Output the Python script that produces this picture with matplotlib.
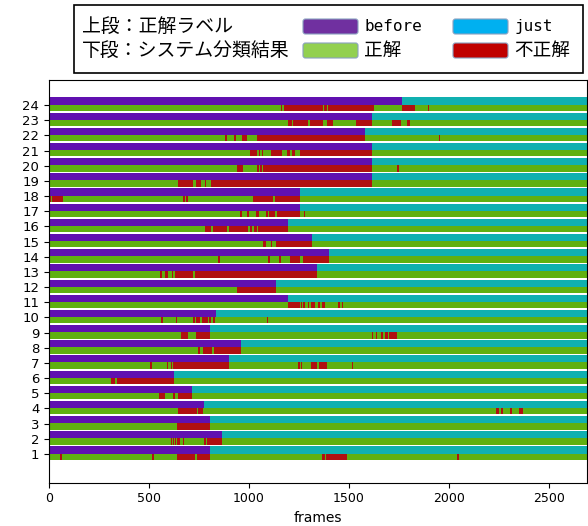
import matplotlib
matplotlib.use("Agg")
import matplotlib.pyplot as plt
import matplotlib.patches as mpatches
import matplotlib.transforms as mtransforms

# ----------
# > Data <
# ----------
n_frames = 2690
rows = list(range(1, 25))

# frame where the ground-truth label switches from "before" to "just"
switch_frames = [805, 865, 805, 773, 713, 627, 898, 958, 805, 833, 1197, 1135,
                 1342, 1402, 1313, 1195, 1255, 1255, 1613, 1613, 1613, 1580, 1613, 1763]

# frame ranges where the system classification was wrong (start, end)
error_segments = [
    [(55, 63), (517, 523), (638, 730), (738, 805), (1363, 1368), (1372, 1378), (1385, 1488), (2038, 2052)],
    [(610, 615), (620, 625), (630, 635), (641, 655), (668, 675), (775, 785), (792, 865)],
    [(638, 805)],
    [(643, 738), (747, 772), (2235, 2252), (2258, 2268), (2305, 2313), (2352, 2372)],
    [(550, 580), (622, 630), (643, 713)],
    [(310, 330), (338, 627)],
    [(505, 513), (588, 595), (610, 617), (622, 898), (1246, 1255), (1260, 1267), (1308, 1338), (1350, 1388), (1513, 1522)],
    [(747, 755), (772, 817), (825, 958)],
    [(660, 697), (735, 805), (1615, 1622), (1633, 1641), (1662, 1672), (1680, 1697), (1700, 1741)],
    [(560, 568), (633, 638), (718, 728), (735, 755), (763, 797), (802, 810), (822, 830), (1088, 1097)],
    [(1197, 1255), (1260, 1267), (1272, 1280), (1293, 1300), (1308, 1330), (1347, 1355), (1363, 1380), (1447, 1455), (1463, 1472)],
    [(941, 1135)],
    [(555, 565), (580, 597), (613, 622), (630, 638), (640, 722), (730, 1342)],
    [(846, 855), (1096, 1105), (1151, 1160), (1205, 1255), (1268, 1402)],
    [(1071, 1085), (1108, 1113), (1133, 1313)],
    [(778, 810), (822, 888), (902, 997), (1003, 1013), (1023, 1038), (1047, 1197)],
    [(955, 963), (988, 998), (1033, 1048), (1083, 1097), (1102, 1130), (1138, 1255), (1276, 1281)],
    [(2, 8), (13, 68), (672, 678), (685, 693), (1022, 1118), (1130, 1255)],
    [(643, 718), (735, 758), (778, 783), (810, 1613)],
    [(941, 971), (1041, 1048), (1055, 1063), (1069, 1613), (1741, 1748)],
    [(1005, 1041), (1048, 1055), (1063, 1071), (1108, 1163), (1188, 1205), (1215, 1230), (1255, 1613)],
    [(880, 888), (925, 933), (963, 988), (1038, 1580), (1950, 1957)],
    [(1195, 1215), (1222, 1296), (1305, 1371), (1388, 1421), (1478, 1482), (1533, 1613), (1713, 1760),
     (1790, 1805), (1823, 1827), (1843, 1847), (1873, 1877)],
    [(1160, 1165), (1175, 1370), (1375, 1390), (1395, 1626), (1763, 1830), (1843, 1847), (1863, 1867),
     (1896, 1900), (1918, 1922)],
]

# -----------
# > Colours <
# -----------
c_before, c_just = "#6010b0", "#10b0b0"
c_ok, c_ng = "#60b010", "#b01010"
leg_before, leg_just = "#7030a0", "#00b0f0"
leg_ok, leg_ng = "#92d050", "#c00000"

# ------------
# > Plotting <
# ------------
W, H = 588, 526
fig = plt.figure(figsize=(W / 100, H / 100), dpi=100)
ax = fig.add_axes([49 / W, 1 - 482.5 / H, 538 / W, 402.5 / H])

for row, t, segs in zip(rows, switch_frames, error_segments):
    # upper: ground truth label
    ax.broken_barh([(0, t)], (row + 0.03, 0.47), facecolors=c_before, linewidth=0)
    ax.broken_barh([(t, n_frames - t)], (row + 0.03, 0.47), facecolors=c_just, linewidth=0)
    # lower: system result
    ax.broken_barh([(0, n_frames)], (row - 0.39, 0.42), facecolors=c_ok, linewidth=0)
    ax.broken_barh([(s, e - s) for s, e in segs], (row - 0.39, 0.42), facecolors=c_ng, linewidth=0)

ax.set_xlim(0, n_frames)
ax.set_ylim(-0.88, 25.65)
ax.set_yticks(rows)
ax.set_yticklabels([str(r) for r in rows])
ax.set_xticks([0, 500, 1000, 1500, 2000, 2500])
ax.tick_params(axis="x", labelsize=9)
ax.tick_params(axis="y", labelsize=9.5)
ax.set_xlabel("frames", fontsize=10)

# ------------------------------
# > Legend box (pixel coords) <
# ------------------------------
px = mtransforms.Affine2D().scale(1, -1).translate(0, H)
fig.add_artist(mpatches.Rectangle((74, 5), 509, 68, transform=px, fill=False,
                                  edgecolor="black", linewidth=1.2))

cjk = ["Noto Sans CJK JP", "DejaVu Sans"]
fig.text(82, 26.5, "上段：正解ラベル", transform=px, fontsize=13.6, family=cjk, va="center")
fig.text(82, 50.5, "下段：システム分類結果", transform=px, fontsize=13.6, family=cjk, va="center")

legend_items = [
    (303, 19, leg_before, "before", "DejaVu Sans Mono", 11.5),
    (303, 43, leg_ok, "正解", cjk, 13.4),
    (453, 19, leg_just, "just", "DejaVu Sans Mono", 11.5),
    (453, 43, leg_ng, "不正解", cjk, 13.4),
]
for x, y, col, label, fam, fs in legend_items:
    fig.add_artist(mpatches.FancyBboxPatch((x, y), 55, 15, transform=px,
                                           boxstyle="round,pad=0,rounding_size=2.5",
                                           facecolor=col, edgecolor="#8aa0c0", linewidth=0.8))
    fig.text(x + 61, y + 7.5, label, transform=px, fontsize=fs, family=fam, va="center")

fig.savefig("out.png", dpi=100)
